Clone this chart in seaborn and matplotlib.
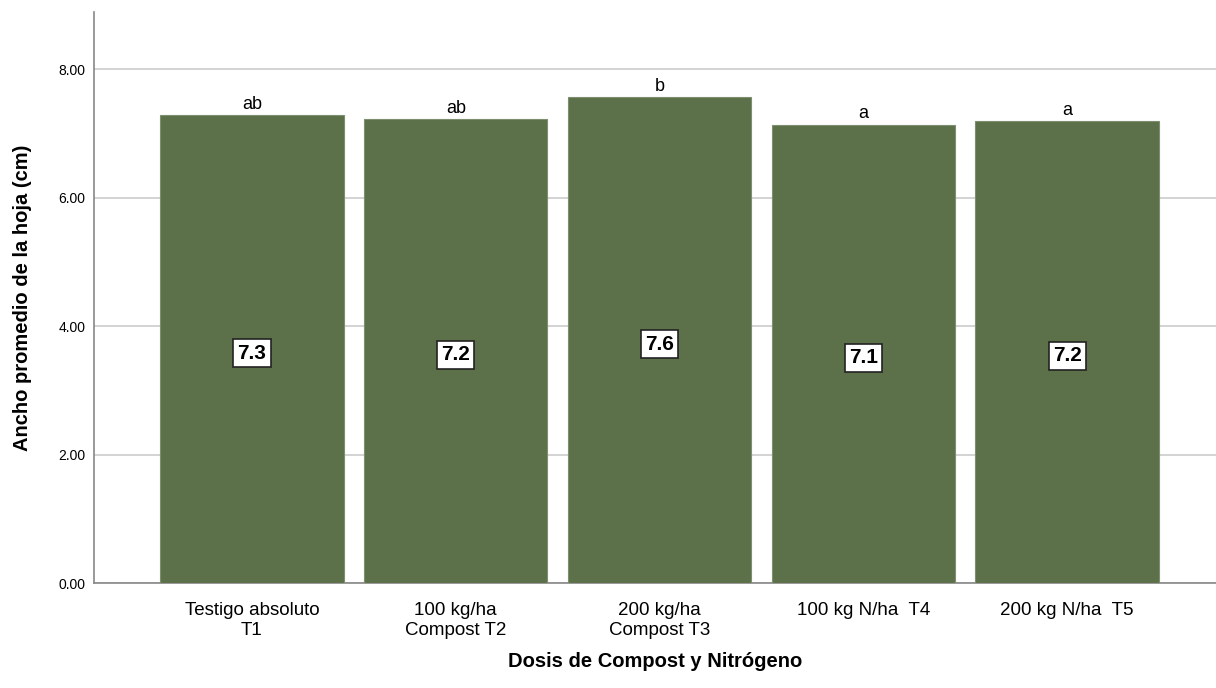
import matplotlib
matplotlib.use("Agg")
import matplotlib.pyplot as plt
import seaborn as sns
import pandas as pd

# datos
tratamientos = [
    "Testigo absoluto\nT1",
    "100 kg/ha\nCompost T2",
    "200 kg/ha\nCompost T3",
    "100 kg N/ha  T4",
    "200 kg N/ha  T5",
]
ancho_medio = [7.28, 7.22, 7.56, 7.13, 7.19]
etiquetas_valor = ["7.3", "7.2", "7.6", "7.1", "7.2"]
letras = ["ab", "ab", "b", "a", "a"]
ticks_y = [0, 2, 4, 6, 8]

df = pd.DataFrame({"Tratamiento": tratamientos, "Ancho": ancho_medio})

sns.set_style("white")
plt.rcParams["font.family"] = ["Liberation Sans", "DejaVu Sans"]
plt.rcParams["text.color"] = "black"
plt.rcParams["axes.labelcolor"] = "black"
plt.rcParams["xtick.color"] = "black"
plt.rcParams["ytick.color"] = "black"

fig = plt.figure(figsize=(12.16, 6.88), dpi=100)
ax = fig.add_axes([0.0773, 0.1526, 0.9227, 0.83])

sns.barplot(
    data=df, x="Tratamiento", y="Ancho", color="#5c7049", saturation=1,
    width=0.9, edgecolor="#7d8f6e", linewidth=0.8, ax=ax, zorder=3,
)

ax.set_ylim(0, 8.89)
ax.set_xlim(-0.775, 4.73)
ax.set_yticks(ticks_y)
ax.set_yticklabels([f"{t:.2f}" for t in ticks_y], fontsize=10)
ax.tick_params(axis="x", labelsize=13.5, length=0, pad=14)
ax.tick_params(axis="y", length=0, pad=6)
ax.yaxis.grid(True, color="#cccccc", linewidth=1.2, zorder=0)
ax.set_axisbelow(True)

for s in ["top", "right"]:
    ax.spines[s].set_visible(False)
for s in ["left", "bottom"]:
    ax.spines[s].set_color("#888888")
    ax.spines[s].set_linewidth(1.2)

for i, (v, lab, let) in enumerate(zip(ancho_medio, etiquetas_valor, letras)):
    ax.text(i, v / 2 - 0.06, lab, ha="center", va="center", fontsize=15, fontweight="bold",
            zorder=5,
            bbox=dict(boxstyle="square,pad=0.2", facecolor="white", edgecolor="#222222", linewidth=1.2))
    ax.text(i, v + 0.04, let, ha="center", va="bottom", fontsize=13, zorder=5)

ax.set_xlabel("Dosis de Compost y Nitrógeno", fontsize=14.5, fontweight="bold", labelpad=9)
ax.set_ylabel("Ancho promedio de la hoja (cm)", fontsize=14.5, fontweight="bold", labelpad=19)

fig.savefig("out.png", dpi=100)
